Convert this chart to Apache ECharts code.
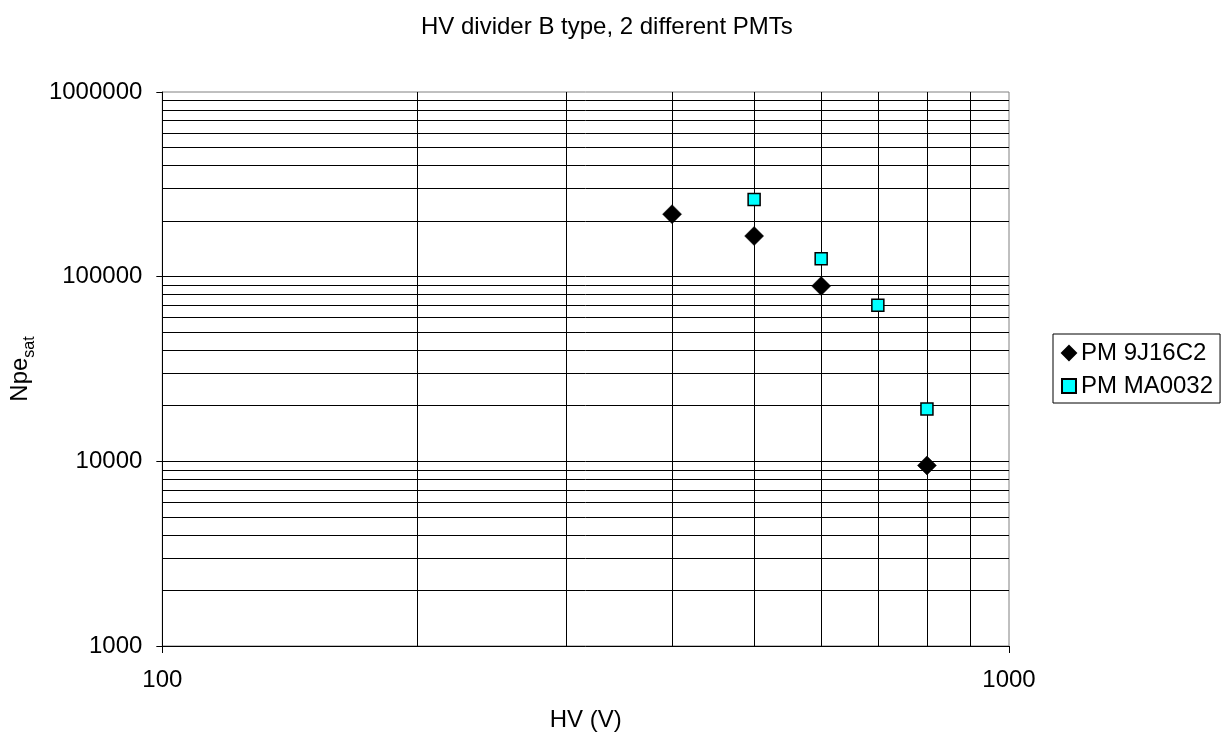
<!DOCTYPE html>
<html>
<head>
<meta charset="utf-8">
<script src="https://cdn.jsdelivr.net/npm/echarts@6/dist/echarts.min.js"></script>
<style>
  html, body { margin: 0; padding: 0; background: #fff; }
  #chart { width: 1223px; height: 738px; }
</style>
</head>
<body>
<div id="chart"></div>
<script>
// Saturation photoelectron counts vs high voltage, two photomultipliers
const seriesNames = ['PM 9J16C2', 'PM MA0032'];
const hv9J16C2 = [400, 500, 600, 800];
const npe9J16C2 = [218000, 166000, 89000, 9500];
const hvMA0032 = [500, 600, 700, 800];
const npeMA0032 = [262000, 125000, 70000, 19200];

// Interior log gridlines (decades plus 2..9 of each decade); the plot frame covers the ends
const xGridValues = [200, 300, 400, 500, 600, 700, 800, 900];
const yGridValues = [
  2000, 3000, 4000, 5000, 6000, 7000, 8000, 9000, 10000,
  20000, 30000, 40000, 50000, 60000, 70000, 80000, 90000, 100000,
  200000, 300000, 400000, 500000, 600000, 700000, 800000, 900000
];

const FONT = 'Liberation Sans, Arial, sans-serif';
const pairs = (xs, ys) => xs.map((x, i) => [x, ys[i]]);

const gridLines = [
  ...xGridValues.map(v => ({ xAxis: v })),
  ...yGridValues.map(v => ({ yAxis: v }))
];

const chart = echarts.init(document.getElementById('chart'), null, { renderer: 'canvas' });
chart.setOption({
  animation: false,
  backgroundColor: '#fff',
  textStyle: { fontFamily: FONT, color: '#000' },
  title: {
    text: 'HV divider B type, 2 different PMTs',
    left: 416,
    top: 10,
    textStyle: { fontFamily: FONT, fontSize: 24, fontWeight: 'normal', color: '#000', lineHeight: 24 }
  },
  grid: {
    left: 158, right: 214, top: 92, bottom: 92,
    show: true, borderColor: '#808080', borderWidth: 1, backgroundColor: 'transparent'
  },
  legend: {
    orient: 'vertical',
    left: 1053,
    top: 334,
    data: seriesNames,
    itemWidth: 14,
    itemHeight: 14,
    itemGap: 9,
    padding: [7, 7, 5, 8],
    borderColor: '#000',
    borderWidth: 1,
    textStyle: { fontFamily: FONT, fontSize: 24, color: '#000', lineHeight: 24 }
  },
  xAxis: {
    type: 'log',
    logBase: 10,
    min: 100,
    max: 1000,
    name: 'HV (V)',
    nameLocation: 'middle',
    nameGap: 62,
    nameTextStyle: { fontFamily: FONT, fontSize: 24, color: '#000', lineHeight: 24 },
    axisLine: { show: true, lineStyle: { color: '#000', width: 1 } },
    axisTick: { show: true, inside: false, length: 7, lineStyle: { color: '#000' } },
    axisLabel: {
      fontFamily: FONT, fontSize: 24, color: '#000', margin: 22,
      formatter: v => String(Math.round(v))
    },
    splitLine: { show: false }
  },
  yAxis: {
    type: 'log',
    logBase: 10,
    min: 1000,
    max: 1000000,
    name: '{a|Npe}{b|sat}',
    nameLocation: 'middle',
    nameRotate: 90,
    nameGap: 123,
    nameTextStyle: {
      rich: {
        a: { fontFamily: FONT, fontSize: 24, color: '#000', lineHeight: 24, verticalAlign: 'top' },
        b: { fontFamily: FONT, fontSize: 16, color: '#000', lineHeight: 16, verticalAlign: 'top', padding: [14, 0, 0, 0] }
      }
    },
    axisLine: { show: true, lineStyle: { color: '#000', width: 1 } },
    axisTick: { show: true, inside: false, length: 6, lineStyle: { color: '#000' } },
    axisLabel: {
      fontFamily: FONT, fontSize: 24, color: '#000', margin: 20,
      formatter: v => String(Math.round(v))
    },
    splitLine: { show: false }
  },
  series: [
    {
      name: 'gridlines',
      type: 'scatter',
      data: [],
      z: 1,
      silent: true,
      markLine: {
        silent: true,
        symbol: ['none', 'none'],
        label: { show: false },
        emphasis: { disabled: true },
        lineStyle: { color: '#000', width: 1, type: 'solid' },
        data: gridLines
      }
    },
    {
      name: seriesNames[0],
      type: 'scatter',
      z: 5,
      symbol: 'diamond',
      symbolSize: 19,
      itemStyle: { color: '#000', borderColor: '#000', borderWidth: 0.5, opacity: 1 },
      data: pairs(hv9J16C2, npe9J16C2)
    },
    {
      name: seriesNames[1],
      type: 'scatter',
      z: 6,
      symbol: 'rect',
      symbolSize: 12,
      itemStyle: { color: '#00FFFF', borderColor: '#000', borderWidth: 1.5, opacity: 1 },
      data: pairs(hvMA0032, npeMA0032)
    }
  ]
});
</script>
</body>
</html>
